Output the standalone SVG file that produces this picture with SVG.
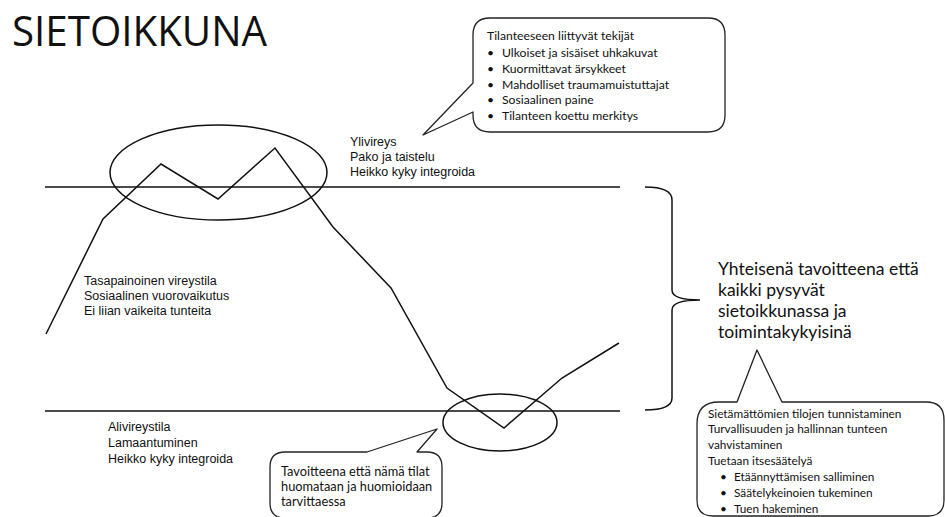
<svg xmlns="http://www.w3.org/2000/svg" width="945" height="517" viewBox="0 0 945 517">
<style>
.ln{fill:none;stroke:#111;stroke-width:1.5;stroke-linejoin:miter}
.co{fill:#fff;stroke:#222;stroke-width:1.3;stroke-linejoin:round}
.ar{font-family:"Liberation Sans",Arial,sans-serif;font-size:12.5px;fill:#111}
.ca{font-family:Lato,"Open Sans",sans-serif;font-size:12.2px;fill:#111}
.cb{font-family:Lato,"Open Sans",sans-serif;font-size:12.8px;fill:#111}
.cr{font-family:Lato,"Open Sans",sans-serif;font-size:11.8px;fill:#111}
.big{font-family:Lato,"Open Sans",sans-serif;font-size:17.5px;fill:#111}
</style>
<rect width="945" height="517" fill="#fff"/>
<g id="title"><text x="12" y="46" font-family="'Open Sans',sans-serif" font-size="42" fill="#111" textLength="255" lengthAdjust="spacingAndGlyphs">SIETOIKKUNA</text></g>
<g id="connectors">
<line class="ln" x1="45" y1="187" x2="620" y2="187"/>
<line class="ln" x1="45" y1="411" x2="620" y2="411"/>
<polyline class="ln" points="46,334 103,219 161,164 218,199 275,148 333,227 391,288 447,388 504,428 562,378 619,343"/>
<path class="ln" d="M645,187 Q672,187 672,200 L672,290 Q672,300 700,300 Q672,300 672,310 L672,398 Q672,410 645,410"/>
</g>
<g id="ellipse-top"><ellipse class="ln" cx="218.5" cy="172.5" rx="108.5" ry="47.5"/></g>
<g id="ellipse-bottom"><ellipse class="ln" cx="500" cy="422.5" rx="57" ry="28.5"/></g>
<g id="callout-top">
<path class="co" d="M490,18 H708 Q725,18 725,35 V115 Q725,132 708,132 H490 Q473,132 473,115 V112 L423,135 L473,83 V35 Q473,18 490,18 Z"/>
<text class="ca" x="487" y="40">Tilanteeseen liittyvät tekijät</text>
<text class="ca" x="487" y="57">•</text><text class="ca" x="502" y="57">Ulkoiset ja sisäiset uhkakuvat</text>
<text class="ca" x="487" y="73">•</text><text class="ca" x="502" y="73">Kuormittavat ärsykkeet</text>
<text class="ca" x="487" y="89">•</text><text class="ca" x="502" y="89">Mahdolliset traumamuistuttajat</text>
<text class="ca" x="487" y="104">•</text><text class="ca" x="502" y="104">Sosiaalinen paine</text>
<text class="ca" x="487" y="120">•</text><text class="ca" x="502" y="120">Tilanteen koettu  merkitys</text>
</g>
<g id="ylivireys">
<text class="ar" x="350" y="146">Ylivireys</text>
<text class="ar" x="350" y="161">Pako ja taistelu</text>
<text class="ar" x="350" y="176">Heikko kyky integroida</text>
</g>
<g id="tasapaino">
<text class="ar" x="84" y="285">Tasapainoinen vireystila</text>
<text class="ar" x="84" y="300">Sosiaalinen vuorovaikutus</text>
<text class="ar" x="84" y="315">Ei liian vaikeita tunteita</text>
</g>
<g id="alivireys">
<text class="ar" x="108" y="431">Alivireystila</text>
<text class="ar" x="108" y="447">Lamaantuminen</text>
<text class="ar" x="108" y="463">Heikko kyky  integroida</text>
</g>
<g id="callout-bottom">
<path class="co" d="M285,452 H367 L437,429 L417,452 H427 Q442,452 442,467 V503 Q442,518 427,518 H285 Q270,518 270,503 V467 Q270,452 285,452 Z"/>
<text class="cb" x="281" y="476">Tavoitteena että nämä tilat</text>
<text class="cb" x="281" y="491">huomataan ja huomioidaan</text>
<text class="cb" x="281" y="506">tarvittaessa</text>
</g>
<g id="goal">
<text class="big" x="718" y="275">Yhteisenä tavoitteena että</text>
<text class="big" x="718" y="296">kaikki pysyvät</text>
<text class="big" x="718" y="317">sietoikkunassa ja</text>
<text class="big" x="718" y="338">toimintakykyisinä</text>
</g>
<g id="callout-right">
<path class="co" d="M719,402 H737 L757,350 L782,402 H926 Q944,402 944,420 V500 Q944,516 928,516 H713 Q697,516 697,500 V424 Q697,402 719,402 Z"/>
<text class="cr" x="708" y="418">Sietämättömien tilojen tunnistaminen</text>
<text class="cr" x="708" y="433">Turvallisuuden ja hallinnan tunteen</text>
<text class="cr" x="708" y="449">vahvistaminen</text>
<text class="cr" x="708" y="465">Tuetaan itsesäätelyä</text>
<text class="cr" x="720" y="481">•</text><text class="cr" x="734" y="481">Etäännyttämisen salliminen</text>
<text class="cr" x="720" y="497">•</text><text class="cr" x="734" y="497">Säätelykeinoien tukeminen</text>
<text class="cr" x="720" y="513">•</text><text class="cr" x="734" y="513">Tuen hakeminen</text>
</g>
</svg>
